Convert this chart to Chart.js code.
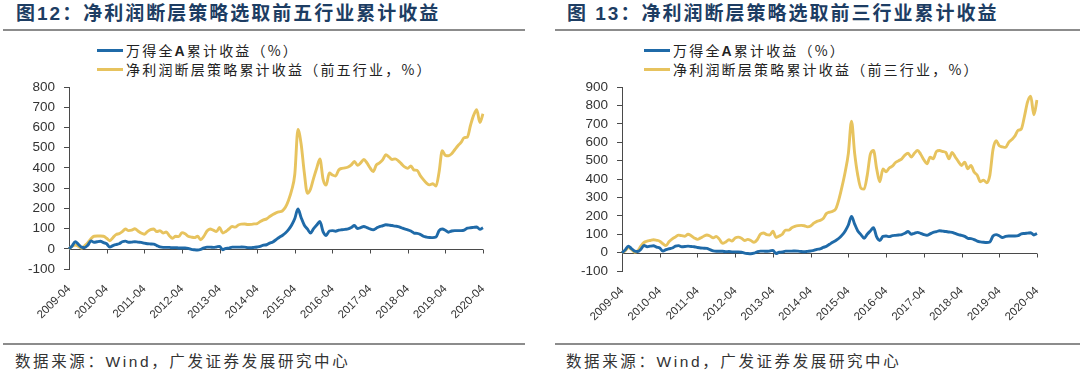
<!DOCTYPE html>
<html>
<head>
<meta charset="utf-8">
<script src="https://cdn.jsdelivr.net/npm/chart.js@4.4.1/dist/chart.umd.min.js"></script>
<style>
  html, body { margin: 0; padding: 0; background: #ffffff; }
  #page { position: relative; width: 1080px; height: 375px; overflow: hidden; background: #fff; }
  .panel { position: absolute; top: 0; width: 540px; height: 375px; }
  .title { position: absolute; top: 3px; font-family: "Liberation Sans", "Noto Sans CJK SC", sans-serif; font-weight: bold; font-size: 19px; line-height: 22px; color: #1d3d63; letter-spacing: 2px; white-space: nowrap; }
  .rule { position: absolute; height: 2px; background: #8c8c8c; }
  .legend { position: absolute; font-family: "Noto Sans CJK SC", sans-serif; font-size: 14px; color: #222; letter-spacing: 2.2px; white-space: nowrap; }
  .legend .row { position: absolute; left: 0; height: 18px; line-height: 18px; }
  .legend .swatch { position: absolute; left: 0; top: 8px; width: 26px; height: 3px; }
  .legend .txt { position: absolute; left: 29px; top: 0; }
  .legend b { font-family: "Liberation Sans", sans-serif; font-weight: bold; letter-spacing: 2px; }
  .footer { position: absolute; top: 352px; font-family: "Liberation Sans", "Noto Sans CJK SC", sans-serif; font-size: 15.5px; line-height: 20px; color: #333; letter-spacing: 2.6px; white-space: nowrap; }
  canvas { position: absolute; left: 0; top: 70px; }
</style>
</head>
<body>
<div id="page">
  <div class="panel" style="left:0">
    <div class="title" style="left:16px">图12：净利润断层策略选取前五行业累计收益</div>
    <div class="rule" style="left:3px; width:522px; top:29px"></div>
    <div class="legend" style="left:97px; top:41px">
      <div class="row" style="top:0"><span class="swatch" style="background:#1f6aa8"></span><span class="txt">万得全<b>A</b>累计收益（%）</span></div>
      <div class="row" style="top:19px"><span class="swatch" style="background:#e7c35e"></span><span class="txt">净利润断层策略累计收益（前五行业，%）</span></div>
    </div>
    <canvas id="c1" width="540" height="269"></canvas>
    <div class="rule" style="left:3px; width:522px; top:343px"></div>
    <div class="footer" style="left:15px">数据来源：Wind，广发证券发展研究中心</div>
  </div>
  <div class="panel" style="left:540px">
    <div class="title" style="left:27px">图 13：净利润断层策略选取前三行业累计收益</div>
    <div class="rule" style="left:15px; width:525px; top:29px"></div>
    <div class="legend" style="left:104px; top:41px">
      <div class="row" style="top:0"><span class="swatch" style="background:#1f6aa8"></span><span class="txt">万得全<b>A</b>累计收益（%）</span></div>
      <div class="row" style="top:19px"><span class="swatch" style="background:#e7c35e"></span><span class="txt">净利润断层策略累计收益（前三行业，%）</span></div>
    </div>
    <canvas id="c2" width="540" height="271"></canvas>
    <div class="rule" style="left:15px; width:525px; top:343px"></div>
    <div class="footer" style="left:26px">数据来源：Wind，广发证券发展研究中心</div>
  </div>
</div>
<script>
// ---- categories (monthly, 2009-04 .. 2020-04) ----
const months = [
  '2009-04','2009-05','2009-06','2009-07','2009-08','2009-09','2009-10','2009-11','2009-12',
  '2010-01','2010-02','2010-03','2010-04','2010-05','2010-06','2010-07','2010-08','2010-09','2010-10','2010-11','2010-12',
  '2011-01','2011-02','2011-03','2011-04','2011-05','2011-06','2011-07','2011-08','2011-09','2011-10','2011-11','2011-12',
  '2012-01','2012-02','2012-03','2012-04','2012-05','2012-06','2012-07','2012-08','2012-09','2012-10','2012-11','2012-12',
  '2013-01','2013-02','2013-03','2013-04','2013-05','2013-06','2013-07','2013-08','2013-09','2013-10','2013-11','2013-12',
  '2014-01','2014-02','2014-03','2014-04','2014-05','2014-06','2014-07','2014-08','2014-09','2014-10','2014-11','2014-12',
  '2015-01','2015-02','2015-03','2015-04','2015-05','2015-06','2015-07','2015-08','2015-09','2015-10','2015-11','2015-12',
  '2016-01','2016-02','2016-03','2016-04','2016-05','2016-06','2016-07','2016-08','2016-09','2016-10','2016-11','2016-12',
  '2017-01','2017-02','2017-03','2017-04','2017-05','2017-06','2017-07','2017-08','2017-09','2017-10','2017-11','2017-12',
  '2018-01','2018-02','2018-03','2018-04','2018-05','2018-06','2018-07','2018-08','2018-09','2018-10','2018-11','2018-12',
  '2019-01','2019-02','2019-03','2019-04','2019-05','2019-06','2019-07','2019-08','2019-09','2019-10','2019-11','2019-12',
  '2020-01','2020-02','2020-03','2020-04'
];

// ---- x tick labels shown ----
const yearTicks = ['2009-04','2010-04','2011-04','2012-04','2013-04','2014-04','2015-04','2016-04','2017-04','2018-04','2019-04','2020-04'];

// ---- series: 万得全A累计收益（%） ----
const windA = [
  0,14,35,22,8,6,18,39,32,35,37,30,
  25,8,16,21,25,35,38,32,33,35,33,32,
  28,25,24,23,16,9,7,7,7,5,6,4,
  4,4,2,-3,-5,-6,-3,4,8,8,7,9,
  12,-5,2,3,8,8,8,9,8,6,5,7,
  9,12,18,20,28,34,45,56,66,78,95,118,
  150,197,155,118,98,78,100,118,135,85,66,88,
  90,87,92,94,96,98,105,115,100,105,110,105,
  98,94,102,110,114,119,117,115,112,110,104,98,
  94,88,78,76,71,62,58,56,55,58,90,98,
  92,82,88,90,90,90,92,102,104,106,108,96,
  104
];

// ---- series: 净利润断层策略累计收益（前五行业，%） ----
const top5 = [
  0,12,18,12,2,15,30,50,62,63,63,62,
  52,40,55,70,75,85,98,90,92,99,88,78,
  72,85,95,98,85,90,78,83,65,52,62,60,
  80,75,62,58,55,62,45,62,88,98,92,85,
  105,78,86,98,110,107,118,122,123,120,121,123,
  125,135,143,148,160,170,178,183,187,205,240,290,
  370,590,520,380,275,295,350,400,445,345,315,375,
  365,360,390,398,400,405,415,432,413,425,442,425,
  400,382,415,425,440,465,455,442,445,435,420,405,
  398,410,390,388,362,342,325,316,322,310,380,485,
  462,460,470,490,510,526,550,552,610,660,688,625,
  668
];

// ---- series: 净利润断层策略累计收益（前三行业，%） ----
const top3 = [
  0,10,27,18,2,10,35,55,62,66,70,67,
  62,48,38,60,75,85,95,92,89,100,92,80,
  72,80,89,96,90,80,88,72,50,58,70,63,
  80,84,78,66,72,66,56,70,100,107,98,96,
  116,82,90,100,122,122,135,143,147,148,146,140,
  145,160,170,175,185,212,220,225,238,290,360,440,
  540,715,540,420,350,345,420,535,555,456,385,455,
  440,460,470,490,500,510,530,540,520,540,555,535,
  505,483,519,510,550,555,550,545,510,545,520,495,
  474,492,456,474,438,421,385,394,380,420,560,608,
  581,575,572,599,615,635,665,672,740,820,850,750,
  830
];

// ---- y tick ranges ----
const yRange1 = { min: -100, max: 800, step: 100 };
const yRange2 = { min: -100, max: 900, step: 100 };

const seriesNames1 = ['万得全A累计收益（%）', '净利润断层策略累计收益（前五行业，%）'];
const seriesNames2 = ['万得全A累计收益（%）', '净利润断层策略累计收益（前三行业，%）'];

const BLUE = '#1f6aa8';
const GOLD = '#e7c35e';
const AXIS = '#4a4a4a';

const zeroAxis = {
  id: 'zeroAxis',
  beforeDatasetsDraw(chart) {
    const { ctx, chartArea, scales } = chart;
    const x = scales.x, y = scales.y;
    const y0 = Math.round(y.getPixelForValue(0)) + 0.5;
    ctx.save();
    ctx.strokeStyle = AXIS;
    ctx.lineWidth = 1;
    ctx.beginPath();
    ctx.moveTo(chartArea.left, y0);
    ctx.lineTo(chartArea.right, y0);
    yearTicks.forEach(t => {
      const px = Math.round(x.getPixelForValue(months.indexOf(t))) + 0.5;
      ctx.moveTo(px, y0);
      ctx.lineTo(px, y0 + 4);
    });
    ctx.stroke();
    ctx.restore();
  }
};

Chart.defaults.font.family = "'Liberation Sans', Arial, sans-serif";
Chart.defaults.color = '#333';

function makeChart(id, names, gold, range, yWidth, padTop, padRight) {
  return new Chart(document.getElementById(id), {
    type: 'line',
    data: {
      labels: months,
      datasets: [
        { label: names[0], data: windA, borderColor: BLUE, backgroundColor: BLUE, borderWidth: 2.9, pointRadius: 0, cubicInterpolationMode: 'monotone', order: 1 },
        { label: names[1], data: gold, borderColor: GOLD, backgroundColor: GOLD, borderWidth: 2.9, pointRadius: 0, cubicInterpolationMode: 'monotone', order: 2 }
      ]
    },
    options: {
      responsive: false,
      animation: false,
      devicePixelRatio: 1,
      layout: { padding: { top: padTop, right: padRight, left: 0, bottom: 0 } },
      plugins: { legend: { display: false }, tooltip: { enabled: false } },
      scales: {
        x: {
          type: 'category',
          grid: { display: false, drawTicks: false },
          border: { display: false },
          ticks: {
            autoSkip: false, minRotation: 45, maxRotation: 45, padding: 13,
            font: { size: 11.5 }, color: '#333',
            callback: (v, i) => (yearTicks.includes(months[i]) ? months[i] : null)
          },
          afterFit: (s) => { s.height = 70; }
        },
        y: {
          min: range.min, max: range.max,
          ticks: { stepSize: range.step, autoSkip: false, padding: 9, font: { size: 13.5 }, color: '#333' },
          grid: { drawOnChartArea: false, drawTicks: true, tickLength: 5, color: AXIS },
          border: { display: true, color: AXIS, width: 1 },
          afterFit: (s) => { s.width = yWidth; }
        }
      }
    },
    plugins: [zeroAxis]
  });
}

makeChart('c1', seriesNames1, top5, yRange1, 69, 13, 57);
makeChart('c2', seriesNames2, top3, yRange2, 82, 14, 43);
</script>
</body>
</html>
